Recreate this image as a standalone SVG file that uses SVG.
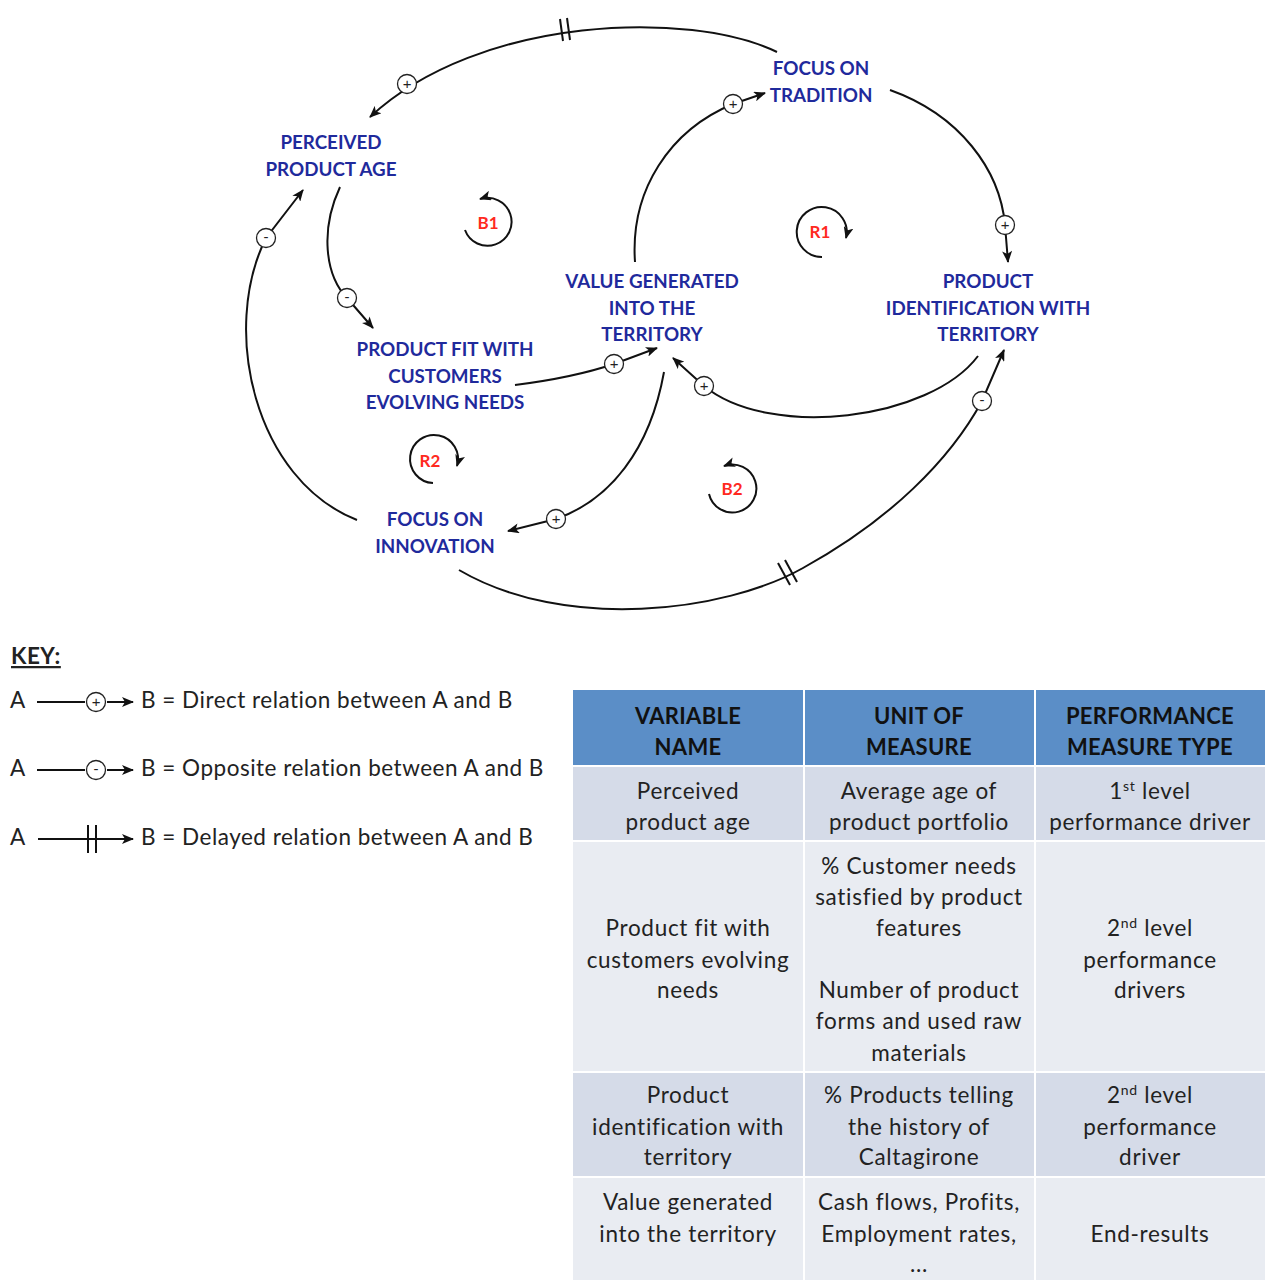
<svg xmlns="http://www.w3.org/2000/svg" xmlns:xlink="http://www.w3.org/1999/xlink" width="1271" height="1280" viewBox="0 0 1271 1280">
  <style>
    .var { font-family: Lato, "Open Sans", "Liberation Sans", sans-serif; font-weight: 700; font-size: 18.8px; fill: #1f2a9c; text-anchor: middle; }
    .loop { font-family: Lato, "Liberation Sans", sans-serif; font-weight: 700; font-size: 17px; fill: #ff2a1f; text-anchor: middle; }
    .link { fill: none; stroke: #111; stroke-width: 2; }
    .ring { fill: none; stroke: #111; stroke-width: 2; }
    .tick { stroke: #111; stroke-width: 2; }
    .sgn { fill: #fff; stroke: #222; stroke-width: 1.3; }
    .sgnt { font-family: "Liberation Sans", sans-serif; font-size: 15px; fill: #222; text-anchor: middle; }
    .key { font-family: Lato, "Open Sans", "Liberation Sans", sans-serif; font-size: 22.5px; letter-spacing: 0.5px; fill: #222; }
    .th { font-family: Lato, "Liberation Sans", sans-serif; font-weight: 700; font-size: 22px; letter-spacing: 0.3px; fill: #111; text-anchor: middle; }
    .td { font-family: Lato, "Liberation Sans", sans-serif; font-size: 22.5px; letter-spacing: 0.7px; fill: #222; text-anchor: middle; }
    .hd { fill: #5b8ec7; }
    .dk { fill: #d5dbe8; }
    .lt { fill: #e9ecf2; }
  </style>
  <defs>
    <marker id="arrow" viewBox="0 0 12 10" refX="11" refY="5" markerWidth="13" markerHeight="10" markerUnits="userSpaceOnUse" orient="auto">
      <path d="M0,0 L12,5 L0,10 L3,5 z" fill="#111"/>
    </marker>
    <g id="plus">
      <circle class="sgn" r="9.5"/>
      <text class="sgnt" y="5">+</text>
    </g>
    <g id="minus">
      <circle class="sgn" r="9.5"/>
      <text class="sgnt" y="4">-</text>
    </g>
  </defs>

  <rect width="1271" height="1280" fill="#fff"/>

  <!-- causal links -->
  <g id="connectors">
    <path class="link" d="M777,52 C690,10 480,15 370,117" marker-end="url(#arrow)"/>
    <path class="link" d="M890,90 C960,115 1000,170 1005,225 L1008,262" marker-end="url(#arrow)"/>
    <path class="link" d="M635,262 C630,190 670,130 733,104 L765,93" marker-end="url(#arrow)"/>
    <path class="link" d="M340,187 C320,230 325,275 347,298 L373,328" marker-end="url(#arrow)"/>
    <path class="link" d="M357,520 C255,480 220,330 266,238 L303,190" marker-end="url(#arrow)"/>
    <path class="link" d="M515,385 C555,380 590,372 614,364 L657,348" marker-end="url(#arrow)"/>
    <path class="link" d="M664,372 C650,450 610,500 556,519 L508,531" marker-end="url(#arrow)"/>
    <path class="link" d="M978,356 C930,420 770,440 704,386 L673,358" marker-end="url(#arrow)"/>
    <path class="link" d="M459,570 C565,632 725,612 803,568 C890,520 950,460 982,401 L1004,350" marker-end="url(#arrow)"/>

    <!-- delay marks -->
    <line class="tick" x1="560" y1="19" x2="563" y2="41"/>
    <line class="tick" x1="567" y1="18" x2="570" y2="40"/>
    <line class="tick" x1="778" y1="563" x2="790" y2="585"/>
    <line class="tick" x1="785" y1="560" x2="797" y2="582"/>

    <!-- polarity signs -->
    <use xlink:href="#plus" x="407" y="84"/>
    <use xlink:href="#plus" x="1005" y="225"/>
    <use xlink:href="#plus" x="733" y="104"/>
    <use xlink:href="#minus" x="347" y="298"/>
    <use xlink:href="#minus" x="266" y="238"/>
    <use xlink:href="#plus" x="614" y="364"/>
    <use xlink:href="#plus" x="556" y="519"/>
    <use xlink:href="#plus" x="704" y="386"/>
    <use xlink:href="#minus" x="982" y="401"/>
  </g>

  <!-- variables -->
  <g id="perceived-product-age">
    <text class="var" x="331" y="149">PERCEIVED</text>
    <text class="var" x="331" y="176">PRODUCT AGE</text>
  </g>
  <g id="focus-on-tradition">
    <text class="var" x="821" y="75">FOCUS ON</text>
    <text class="var" x="821" y="102">TRADITION</text>
  </g>
  <g id="value-generated">
    <text class="var" x="652" y="288">VALUE GENERATED</text>
    <text class="var" x="652" y="315">INTO THE</text>
    <text class="var" x="652" y="341">TERRITORY</text>
  </g>
  <g id="product-identification">
    <text class="var" x="988" y="288">PRODUCT</text>
    <text class="var" x="988" y="315">IDENTIFICATION WITH</text>
    <text class="var" x="988" y="341">TERRITORY</text>
  </g>
  <g id="product-fit">
    <text class="var" x="445" y="356">PRODUCT FIT WITH</text>
    <text class="var" x="445" y="383">CUSTOMERS</text>
    <text class="var" x="445" y="409">EVOLVING NEEDS</text>
  </g>
  <g id="focus-on-innovation">
    <text class="var" x="435" y="526">FOCUS ON</text>
    <text class="var" x="435" y="553">INNOVATION</text>
  </g>

  <!-- loop markers -->
  <g id="loop-b1">
    <path class="ring" d="M465,230 A24,24 0 1 0 480,199" marker-end="url(#arrow)"/>
    <text class="loop" x="488" y="229">B1</text>
  </g>
  <g id="loop-r1">
    <path class="ring" d="M822,257 A25,25 0 1 1 846,238" marker-end="url(#arrow)"/>
    <text class="loop" x="820" y="238">R1</text>
  </g>
  <g id="loop-r2">
    <path class="ring" d="M433,483 A24,24 0 1 1 457,466" marker-end="url(#arrow)"/>
    <text class="loop" x="430" y="467">R2</text>
  </g>
  <g id="loop-b2">
    <path class="ring" d="M709,494 A24,24 0 1 0 724,466" marker-end="url(#arrow)"/>
    <text class="loop" x="732" y="495">B2</text>
  </g>

  <!-- key -->
  <g id="key">
    <text class="key" x="11" y="664" font-weight="700" letter-spacing="0" font-size="21" text-decoration="underline">KEY:</text>
    <text class="key" x="10" y="708">A</text>
    <line class="link" x1="37" y1="702" x2="85" y2="702"/>
    <line class="link" x1="107" y1="702" x2="133" y2="702" marker-end="url(#arrow)"/>
    <use xlink:href="#plus" x="96" y="702"/>
    <text class="key" x="141" y="708">B = Direct relation between A and B</text>

    <text class="key" x="10" y="776">A</text>
    <line class="link" x1="37" y1="770" x2="85" y2="770"/>
    <line class="link" x1="107" y1="770" x2="133" y2="770" marker-end="url(#arrow)"/>
    <use xlink:href="#minus" x="96" y="770"/>
    <text class="key" x="141" y="776">B = Opposite relation between A and B</text>

    <text class="key" x="10" y="845">A</text>
    <line class="link" x1="38" y1="839" x2="133" y2="839" marker-end="url(#arrow)"/>
    <line class="tick" x1="88" y1="825" x2="88" y2="853"/>
    <line class="tick" x1="96" y1="825" x2="96" y2="853"/>
    <text class="key" x="141" y="845">B = Delayed relation between A and B</text>
  </g>

  <!-- measures table -->
  <g id="table">
    <rect class="hd" x="573" y="690" width="230" height="75"/>
    <rect class="hd" x="805" y="690" width="229" height="75"/>
    <rect class="hd" x="1036" y="690" width="229" height="75"/>

    <rect class="dk" x="573" y="767" width="230" height="73"/>
    <rect class="dk" x="805" y="767" width="229" height="73"/>
    <rect class="dk" x="1036" y="767" width="229" height="73"/>

    <rect class="lt" x="573" y="842" width="230" height="229"/>
    <rect class="lt" x="805" y="842" width="229" height="229"/>
    <rect class="lt" x="1036" y="842" width="229" height="229"/>

    <rect class="dk" x="573" y="1073" width="230" height="103"/>
    <rect class="dk" x="805" y="1073" width="229" height="103"/>
    <rect class="dk" x="1036" y="1073" width="229" height="103"/>

    <rect class="lt" x="573" y="1178" width="230" height="102"/>
    <rect class="lt" x="805" y="1178" width="229" height="102"/>
    <rect class="lt" x="1036" y="1178" width="229" height="102"/>

    <text class="th" x="688" y="724">VARIABLE</text>
    <text class="th" x="688" y="755">NAME</text>
    <text class="th" x="919" y="724">UNIT OF</text>
    <text class="th" x="919" y="755">MEASURE</text>
    <text class="th" x="1150" y="724">PERFORMANCE</text>
    <text class="th" x="1150" y="755">MEASURE TYPE</text>

    <text class="td" x="688" y="799">Perceived</text>
    <text class="td" x="688" y="830">product age</text>
    <text class="td" x="919" y="799">Average age of</text>
    <text class="td" x="919" y="830">product portfolio</text>
    <text class="td" x="1150" y="799">1<tspan font-size="14" dy="-8">st</tspan><tspan dy="8"> level</tspan></text>
    <text class="td" x="1150" y="830">performance driver</text>

    <text class="td" x="688" y="936">Product fit with</text>
    <text class="td" x="688" y="968">customers evolving</text>
    <text class="td" x="688" y="998">needs</text>
    <text class="td" x="919" y="874">% Customer needs</text>
    <text class="td" x="919" y="905">satisfied by product</text>
    <text class="td" x="919" y="936">features</text>
    <text class="td" x="919" y="998">Number of product</text>
    <text class="td" x="919" y="1029">forms and used raw</text>
    <text class="td" x="919" y="1061">materials</text>
    <text class="td" x="1150" y="936">2<tspan font-size="14" dy="-8">nd</tspan><tspan dy="8"> level</tspan></text>
    <text class="td" x="1150" y="968">performance</text>
    <text class="td" x="1150" y="998">drivers</text>

    <text class="td" x="688" y="1103">Product</text>
    <text class="td" x="688" y="1135">identification with</text>
    <text class="td" x="688" y="1165">territory</text>
    <text class="td" x="919" y="1103">% Products telling</text>
    <text class="td" x="919" y="1135">the history of</text>
    <text class="td" x="919" y="1165">Caltagirone</text>
    <text class="td" x="1150" y="1103">2<tspan font-size="14" dy="-8">nd</tspan><tspan dy="8"> level</tspan></text>
    <text class="td" x="1150" y="1135">performance</text>
    <text class="td" x="1150" y="1165">driver</text>

    <text class="td" x="688" y="1210">Value generated</text>
    <text class="td" x="688" y="1242">into the territory</text>
    <text class="td" x="919" y="1210">Cash flows, Profits,</text>
    <text class="td" x="919" y="1242">Employment rates,</text>
    <text class="td" x="919" y="1272">...</text>
    <text class="td" x="1150" y="1242">End-results</text>
  </g>
</svg>
